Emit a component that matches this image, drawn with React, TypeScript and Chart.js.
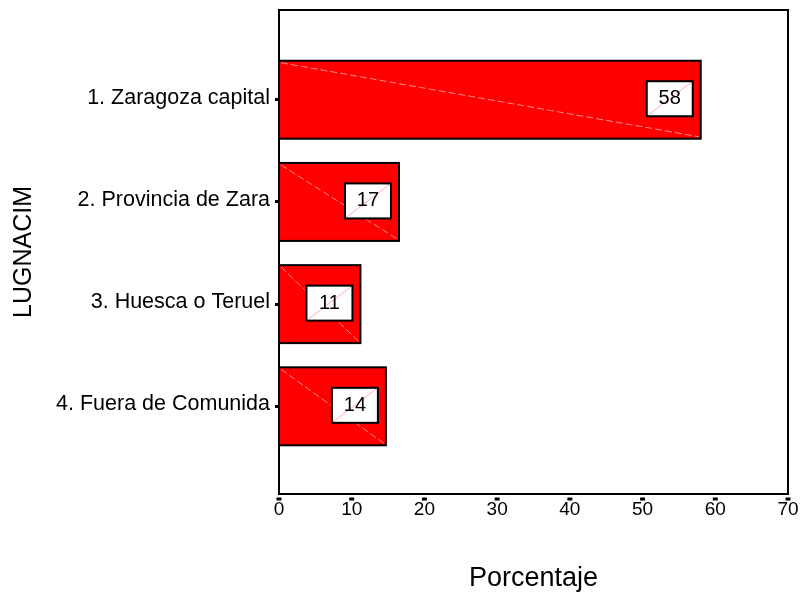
import React, { useEffect, useRef } from 'react';
import { Chart, registerables } from 'chart.js';

Chart.register(...registerables);

const categories = ['1. Zaragoza capital', '2. Provincia de Zara', '3. Huesca o Teruel', '4. Fuera de Comunida'];
const percentages = [58.0, 16.5, 11.2, 14.7];
const valueLabels = ['58', '17', '11', '14'];
const xTickValues = [0, 10, 20, 30, 40, 50, 60, 70];
const xTitle = 'Porcentaje';
const yTitle = 'LUGNACIM';

const FONT = "'Liberation Sans', Arial, Helvetica, sans-serif";

const decorations = {
  id: 'decorations',
  afterDatasetsDraw(chart: any) {
    const ctx = chart.ctx;
    const meta = chart.getDatasetMeta(0);
    ctx.save();
    meta.data.forEach((bar: any, i: number) => {
      const { x, y, base, height } = bar.getProps(['x', 'y', 'base', 'height'], true);
      const top = y - height / 2;
      const bottom = y + height / 2;
      ctx.strokeStyle = 'rgba(255,200,200,0.7)';
      ctx.lineWidth = 1;
      ctx.setLineDash([7, 3]);
      ctx.beginPath();
      ctx.moveTo(base + 2, top + 2);
      ctx.lineTo(x - 2, bottom - 2);
      ctx.stroke();
      ctx.setLineDash([]);
      ctx.strokeStyle = '#000000';
      ctx.lineWidth = 2;
      ctx.strokeRect(base, top, x - base, height);
      const bw = 46;
      const bh = 35;
      const bx = x - 8 - bw;
      const by = y - 1 - bh / 2;
      ctx.fillStyle = '#ffffff';
      ctx.fillRect(bx, by, bw, bh);
      ctx.strokeStyle = 'rgba(255,140,140,0.7)';
      ctx.lineWidth = 1;
      ctx.beginPath();
      ctx.moveTo(bx, by + bh);
      ctx.lineTo(bx + bw, by);
      ctx.stroke();
      ctx.strokeStyle = '#000000';
      ctx.lineWidth = 2;
      ctx.strokeRect(bx, by, bw, bh);
      ctx.fillStyle = '#000000';
      ctx.font = `20px ${FONT}`;
      ctx.textAlign = 'center';
      ctx.textBaseline = 'middle';
      ctx.fillText(valueLabels[i], bx + bw / 2, by + bh / 2);
    });
    ctx.restore();
  },
  afterDraw(chart: any) {
    const ctx = chart.ctx;
    const a = chart.chartArea;
    const xs = chart.scales.x;
    ctx.save();
    ctx.strokeStyle = '#000000';
    ctx.lineWidth = 2;
    ctx.strokeRect(a.left, a.top, a.right - a.left, a.bottom - a.top);
    ctx.fillStyle = '#000000';
    xTickValues.forEach((v) => {
      const px = xs.getPixelForValue(v);
      ctx.fillRect(px - 2.5, a.bottom + 3.5, 5, 3);
    });
    ctx.restore();
  },
};

export default function App() {
  const canvasRef = useRef<HTMLCanvasElement | null>(null);

  useEffect(() => {
    if (!canvasRef.current) return;
    const chart = new Chart(canvasRef.current, {
      type: 'bar',
      data: {
        datasets: [
          {
            data: percentages.map((v, i) => ({ x: v, y: i })),
            backgroundColor: '#ff0000',
            borderColor: '#000000',
            borderWidth: 0,
            borderSkipped: false,
            barPercentage: 0.763,
            categoryPercentage: 1,
          },
        ],
      },
      options: {
        indexAxis: 'y',
        animation: false,
        responsive: false,
        maintainAspectRatio: false,
        devicePixelRatio: 1,
        layout: { padding: { top: 10, right: 13, left: 0, bottom: 0 } },
        plugins: {
          legend: { display: false },
          tooltip: { enabled: false },
        },
        scales: {
          x: {
            type: 'linear',
            position: 'bottom',
            min: 0,
            max: 70,
            offset: false,
            afterBuildTicks: (axis: any) => {
              axis.ticks = xTickValues.map((v) => ({ value: v }));
            },
            afterFit: (scale: any) => {
              scale.height = 98;
              scale.paddingLeft = 0;
              scale.paddingRight = 0;
            },
            grid: { display: false, drawTicks: false },
            border: { display: true, color: '#000000', width: 2 },
            ticks: {
              color: '#000000',
              padding: 6,
              maxRotation: 0,
              font: { family: FONT, size: 19, lineHeight: 1 },
            },
            title: {
              display: true,
              text: xTitle,
              color: '#000000',
              font: { family: FONT, size: 27, lineHeight: 1 },
              padding: { top: 0, bottom: 0 },
            },
          },
          y: {
            type: 'linear',
            position: 'left',
            reverse: true,
            offset: false,
            min: -0.878,
            max: 3.858,
            afterBuildTicks: (axis: any) => {
              axis.ticks = categories.map((_, i) => ({ value: i }));
            },
            afterFit: (scale: any) => {
              scale.width = 279;
              scale.paddingTop = 0;
              scale.paddingBottom = 0;
            },
            grid: {
              display: true,
              offset: false,
              drawOnChartArea: false,
              drawTicks: true,
              tickLength: 4,
              tickWidth: 3,
              tickColor: '#000000',
            },
            border: { display: true, color: '#000000', width: 2 },
            ticks: {
              color: '#000000',
              padding: 5,
              labelOffset: -2,
              font: { family: FONT, size: 21.5, lineHeight: 1 },
              callback: (value: any) => categories[value] ?? '',
            },
            title: {
              display: true,
              text: yTitle,
              color: '#000000',
              font: { family: FONT, size: 25, lineHeight: 1.2 },
              padding: { top: 9, bottom: 0 },
            },
          },
        },
      },
      plugins: [decorations],
    } as any);
    return () => chart.destroy();
  }, []);

  return (
    <div style={{ position: 'fixed', left: 0, top: 0, width: 801, height: 592, background: '#ffffff' }}>
      <canvas ref={canvasRef} width={801} height={592} style={{ display: 'block', width: 801, height: 592 }} />
    </div>
  );
}
